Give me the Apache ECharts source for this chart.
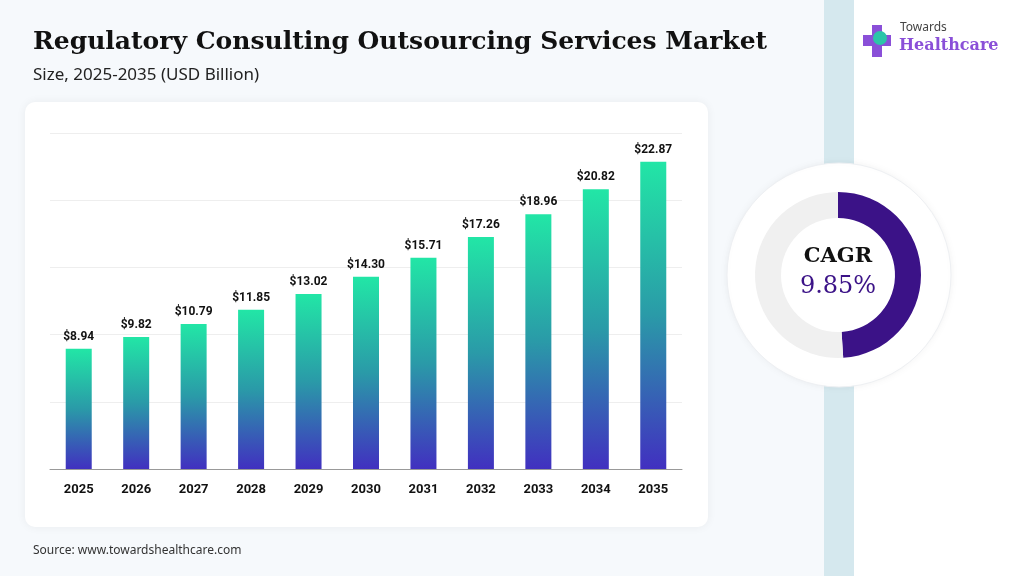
<!DOCTYPE html>
<html><head><meta charset="utf-8">
<script src="https://cdn.jsdelivr.net/npm/echarts@6/dist/echarts.min.js"></script>
<style>html,body{margin:0;padding:0;background:#f6f9fc}#main{width:1024px;height:576px}</style>
</head><body><div id="main"></div>
<script>
var years = ['2025','2026','2027','2028','2029','2030','2031','2032','2033','2034','2035'];
var marketSize = [8.94, 9.82, 10.79, 11.85, 13.02, 14.30, 15.71, 17.26, 18.96, 20.82, 22.87];
var cagrShare = [49, 51]; // purple arc vs grey remainder
var cagrText = '9.85%';

var myChart = echarts.init(document.getElementById('main'));
var option = {
    backgroundColor: '#f6f9fc',
    animation: false,
    graphic: [
        {type: 'rect', shape: {x: 824, y: 0, width: 30, height: 576}, style: {fill: '#d5e8ee'}, z: 0},
        {type: 'rect', shape: {x: 854, y: 0, width: 170, height: 576}, style: {fill: '#ffffff'}, z: 0},
        {type: 'rect', shape: {x: 25, y: 102, width: 683, height: 425, r: 10},
            style: {fill: '#ffffff', shadowBlur: 10, shadowColor: 'rgba(0,0,0,0.06)'}, z: 0},
        {type: 'circle', shape: {cx: 839, cy: 275, r: 112},
            style: {fill: '#ffffff', stroke: '#eef0f3', lineWidth: 1, shadowBlur: 8, shadowColor: 'rgba(0,0,0,0.05)'}, z: 0},
        {type: 'text', left: 33, top: 30, style: {text: 'Regulatory Consulting Outsourcing Services Market',
            font: 'bold 25px "DejaVu Serif", serif', fill: '#111'}},
        {type: 'text', left: 33, top: 67, style: {text: 'Size, 2025-2035 (USD Billion)',
            font: '17px "Noto Sans", sans-serif', fill: '#222'}},
        {type: 'text', left: 33, top: 545, style: {text: 'Source: www.towardshealthcare.com',
            font: '12px "Noto Sans", sans-serif', fill: '#333'}},
        // logo
        {type: 'rect', shape: {x: 872, y: 25, width: 10, height: 32}, style: {fill: '#8a4fd8'}},
        {type: 'rect', shape: {x: 863, y: 35, width: 28, height: 11}, style: {fill: '#8a4fd8'}},
        {type: 'circle', shape: {cx: 880, cy: 38, r: 7}, style: {fill: '#2cc5a8'}},
        {type: 'text', left: 900, top: 22, style: {text: 'Towards', font: '12px "Noto Sans", sans-serif', fill: '#444'}},
        {type: 'text', left: 899, top: 38, style: {text: 'Healthcare', font: 'bold 16px "DejaVu Serif", serif', fill: '#8a4fd8'}}
    ],
    grid: {left: 50, right: 342, top: 133, bottom: 107},
    xAxis: {
        type: 'category', data: years,
        axisTick: {show: false},
        axisLine: {lineStyle: {color: '#999'}},
        axisLabel: {color: '#111', fontWeight: 'bold', fontSize: 13, margin: 14, fontFamily: 'Roboto'}
    },
    yAxis: {
        type: 'value', min: 0, max: 25, interval: 5,
        axisLabel: {show: false},
        splitLine: {lineStyle: {color: '#eeeeee'}}
    },
    series: [
        {
            type: 'bar', data: marketSize, barWidth: 26,
            itemStyle: {color: new echarts.graphic.LinearGradient(0, 0, 0, 1, [
                {offset: 0, color: '#22e6a6'}, {offset: 0.5, color: '#2a9aa8'}, {offset: 1, color: '#4130c0'}
            ])},
            label: {show: true, position: 'top', distance: 6, color: '#111', fontWeight: 'bold', fontSize: 12,
                fontFamily: 'Roboto', formatter: function (p) { return '$' + p.value.toFixed(2); }}
        },
        {
            type: 'pie', center: [838, 275], radius: [57, 83], silent: true,
            startAngle: 90, clockwise: true,
            label: {show: false},
            data: [
                {value: cagrShare[0], itemStyle: {color: '#3b1287'}},
                {value: cagrShare[1], itemStyle: {color: '#f0f0f0'}}
            ]
        }
    ]
};
option.graphic.push(
    {type: 'text', x: 838, y: 257, style: {text: 'CAGR', font: 'bold 21px "DejaVu Serif", serif', fill: '#111', align: 'center', verticalAlign: 'middle'}, z: 10},
    {type: 'text', x: 838, y: 287, style: {text: cagrText, font: '24px "DejaVu Serif", serif', fill: '#3b1287', align: 'center', verticalAlign: 'middle'}, z: 10}
);
myChart.setOption(option);
</script></body></html>
